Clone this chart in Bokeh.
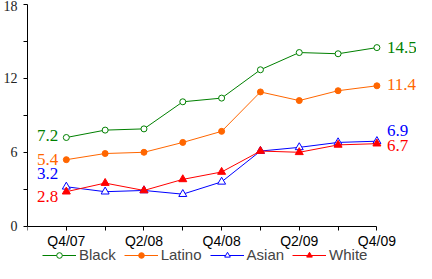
from bokeh.plotting import figure
from bokeh.models import (ColumnDataSource, FixedTicker, Range1d, Legend, LegendItem, LabelSet, LinearAxis)
from bokeh.embed import file_html
from bokeh.resources import INLINE
from bokeh.core.properties import value

quarters = ["Q4/07", "Q1/08", "Q2/08", "Q3/08", "Q4/08", "Q1/09", "Q2/09", "Q3/09", "Q4/09"]
black = [7.2, 7.8, 7.9, 10.1, 10.4, 12.7, 14.1, 14.0, 14.5]
latino = [5.4, 5.9, 6.0, 6.8, 7.7, 10.9, 10.2, 11.0, 11.4]
asian = [3.2, 2.8, 2.9, 2.6, 3.6, 6.1, 6.4, 6.8, 6.9]
white = [2.8, 3.5, 2.9, 3.8, 4.4, 6.1, 6.0, 6.6, 6.7]
y_ticks = [0, 6, 12, 18]
y_minor = [3, 9, 15]

xs = list(range(len(quarters)))
last = len(quarters) - 1

GREEN = "#008000"
ORANGE = "#FF6600"
BLUE = "#0000FF"
RED = "#FF0000"

p = figure(width=416, height=263, output_backend="svg", toolbar_location=None,
           x_axis_location=None,
           x_range=Range1d(-1, last + 1.02), y_range=Range1d(-3.03, 18),
           min_border=0, min_border_left=23, min_border_top=4, min_border_right=0, min_border_bottom=0)
p.outline_line_color = None
p.xgrid.visible = False
p.ygrid.visible = False
p.background_fill_color = "white"
p.border_fill_color = "white"

# x axis drawn at y = 0 inside the frame
xaxis = LinearAxis(fixed_location=0, bounds=(-1, last),
                   ticker=FixedTicker(ticks=[0, 2, 4, 6, 8], minor_ticks=[-1, 1, 3, 5, 7]),
                   major_label_overrides={i: q for i, q in enumerate(quarters)},
                   major_tick_in=0, major_tick_out=4, minor_tick_in=0, minor_tick_out=4,
                   major_label_text_font="Liberation Sans", major_label_text_font_size="14px",
                   major_label_text_color="black", major_label_standoff=3,
                   axis_line_color="black")
p.add_layout(xaxis, "below")

p.yaxis.bounds = (0, 18)
p.yaxis.ticker = FixedTicker(ticks=y_ticks, minor_ticks=y_minor)
p.yaxis.major_tick_in = 0
p.yaxis.major_tick_out = 4
p.yaxis.minor_tick_in = 0
p.yaxis.minor_tick_out = 4
p.yaxis.major_label_text_font = "Liberation Serif"
p.yaxis.major_label_text_font_size = "14px"
p.yaxis.major_label_text_color = "#222222"
p.yaxis.major_label_standoff = 6

series = [
    ("Black", black, GREEN, "circle", "white", 6),
    ("Latino", latino, ORANGE, "circle", ORANGE, 6),
    ("Asian", asian, BLUE, "triangle", "white", 8),
    ("White", white, RED, "triangle", RED, 8),
]

items = []
for name, vals, color, marker, fill, size in series:
    src = ColumnDataSource(dict(x=xs, y=vals))
    ln = p.line("x", "y", source=src, line_color=color, line_width=1)
    sc = p.scatter("x", "y", source=src, marker=marker, size=size,
                   line_color=color, fill_color=fill, line_width=1)
    items.append(LegendItem(label=name, renderers=[ln, sc]))

legend = Legend(items=items, orientation="horizontal", location=(15, 0),
                label_text_font="Liberation Sans", label_text_font_size="15px",
                glyph_width=34, glyph_height=14, spacing=8, padding=0, margin=0,
                border_line_color=None, background_fill_alpha=0,
                label_standoff=3)
p.add_layout(legend, "center")

# end labels
left_offsets = [2, 0, 13, -5]
right_offsets = [0, 1.5, 11, -2]
colors = [GREEN, ORANGE, BLUE, RED]
all_vals = [black, latino, asian, white]

left_src = ColumnDataSource(dict(
    x=[0] * 4, y=[v[0] for v in all_vals],
    text=["%.1f" % v[0] for v in all_vals], color=colors, yo=left_offsets))
right_src = ColumnDataSource(dict(
    x=[last] * 4, y=[v[-1] for v in all_vals],
    text=["%.1f" % v[-1] for v in all_vals], color=colors, yo=right_offsets))

p.add_layout(LabelSet(x="x", y="y", text="text", source=left_src, text_color="color",
                      x_offset=-8, y_offset="yo", text_align="right", text_baseline="middle",
                      text_font=value("Liberation Serif"), text_font_size="17px"))
p.add_layout(LabelSet(x="x", y="y", text="text", source=right_src, text_color="color",
                      x_offset=10, y_offset="yo", text_align="left", text_baseline="middle",
                      text_font=value("Liberation Serif"), text_font_size="17px"))

open("out.html", "w").write(file_html(p, INLINE))
